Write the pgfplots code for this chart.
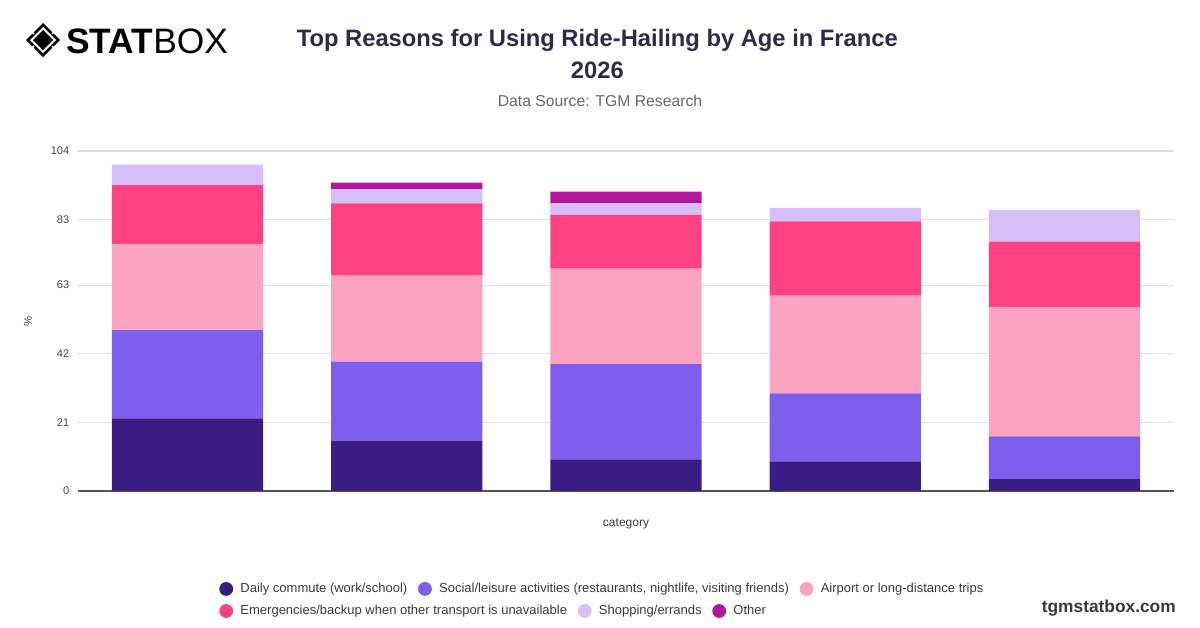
\documentclass[border=0pt]{standalone}
\usepackage{fontspec}
\setmainfont{Liberation Sans}
\usepackage{pgfplots}
\pgfplotsset{compat=1.18}
\definecolor{c1}{HTML}{3A1C85}
\definecolor{c2}{HTML}{7E5EEC}
\definecolor{c3}{HTML}{FDA3C2}
\definecolor{c4}{HTML}{FF4081}
\definecolor{c5}{HTML}{D5BEFA}
\definecolor{c6}{HTML}{B1179B}
\definecolor{titlec}{HTML}{2E2A48}
\definecolor{subc}{HTML}{666666}
\definecolor{gridc}{HTML}{E0E0E0}
\definecolor{basec}{HTML}{555555}
\definecolor{tickc}{HTML}{444444}
\definecolor{legc}{HTML}{3A3A3A}
\pgfplotsset{
  circ/.style={legend image code/.code={\fill[##1] (5pt,0pt) circle (5.2pt);}},
  mylegend/.style={
    circ,
    legend columns=-1,
    legend style={draw=none, fill=none, anchor=west,
      font=\fontsize{9.75}{11}\selectfont,
      nodes={inner sep=0pt, text=legc},
      /tikz/every odd column/.append style={column sep=5.5pt},
      /tikz/every even column/.append style={column sep=8pt}},
  },
  mybox/.style={at={(58.5pt,-368.25pt)}, anchor=south west,
    scale only axis, width=822pt, height=255pt},
}
\begin{document}
\begin{tikzpicture}
\path[use as bounding box] (0pt,0pt) rectangle (900pt,-471pt);
% logo
\fill[black] (32.25pt,-17.25pt) -- (45pt,-30pt) -- (32.25pt,-42.75pt) -- (19.5pt,-30pt) -- cycle;
\fill[white] (32.25pt,-20.25pt) -- (42pt,-30pt) -- (32.25pt,-39.75pt) -- (22.5pt,-30pt) -- cycle;
\fill[black] (32.25pt,-22.5pt) -- (39.75pt,-30pt) -- (32.25pt,-37.5pt) -- (24.75pt,-30pt) -- cycle;
\draw[white, line width=1.2pt] (22pt,-22pt) -- (25.5pt,-25.5pt) (42.5pt,-22pt) -- (39pt,-25.5pt)
  (22pt,-38pt) -- (25.5pt,-34.5pt) (42.5pt,-38pt) -- (39pt,-34.5pt);
\node[anchor=base west, inner sep=0pt] at (49.5pt,-39.75pt)
  {\fontsize{26.5}{29}\selectfont\bfseries STAT\mdseries BOX};
% titles
\node[anchor=center, inner sep=0pt, text=titlec] at (448pt,-30pt)
  {\fontsize{17.8}{21}\selectfont\bfseries Top Reasons for Using Ride-Hailing by Age in France};
\node[anchor=center, inner sep=0pt, text=titlec] at (448pt,-52.5pt)
  {\fontsize{17.8}{21}\selectfont\bfseries 2026};
\node[anchor=center, inner sep=0pt, text=subc] at (450pt,-76pt)
  {\fontsize{11.8}{14}\selectfont Data Source: TGM Research};
\node[anchor=base east, inner sep=0pt, text=legc] at (882pt,-459pt)
  {\fontsize{13}{15}\selectfont\bfseries tgmstatbox.com};
\begin{axis}[mybox, mylegend,
  ybar stacked, bar width=0.69,
  xmin=-0.5, xmax=4.5, ymin=0, ymax=104,
  xtick=\empty,
  ytick={0,21,42,63,83,104},
  ymajorgrids, grid style={draw=gridc, line width=0.8pt},
  axis x line*=bottom, axis y line*=left,
  x axis line style={draw=basec, line width=1pt},
  y axis line style={draw=none},
  major tick length=0pt,
  /pgf/number format/assume math mode=true,
  yticklabel style={font=\fontsize{8.3}{10}\selectfont, text=tickc, xshift=-3pt},
  xlabel={category}, ylabel={\%},
  xlabel style={at={(axis description cs:0.5,-0.097)}, anchor=center,
    font=\fontsize{9}{11}\selectfont, text=legc},
  ylabel style={at={(axis description cs:-0.0456,0.5)}, anchor=center,
    font=\fontsize{8.5}{10}\selectfont, text=tickc},
  legend style={at={(axis description cs:0.125,-0.288)}},
]
\addplot[fill=c1, draw=none, circ] coordinates {(0,22.2) (1,15.4) (2,9.7) (3,9.1) (4,3.6)};
\addplot[fill=c2, draw=none, circ] coordinates {(0,27.0) (1,24.2) (2,29.1) (3,20.8) (4,13.1)};
\addplot[fill=c3, draw=none, circ] coordinates {(0,26.4) (1,26.3) (2,29.2) (3,29.9) (4,39.6)};
\addplot[fill=c4, draw=none, circ] coordinates {(0,18.0) (1,22.1) (2,16.5) (3,22.7) (4,20.0)};
\addplot[fill=c5, draw=none, circ] coordinates {(0,6.2) (1,4.3) (2,3.5) (3,4.1) (4,9.7)};
\addplot[fill=c6, draw=none, circ] coordinates {(0,0) (1,2.0) (2,3.6) (3,0) (4,0)};
\legend{Daily commute (work/school), Social/leisure activities (restaurants{,} nightlife{,} visiting friends), Airport or long-distance trips}
\end{axis}
\begin{axis}[mybox, mylegend, hide axis, xmin=0, xmax=1, ymin=0, ymax=1,
  legend style={at={(axis description cs:0.125,-0.353)}}]
\addlegendimage{fill=c4, draw=none}
\addlegendentry{Emergencies/backup when other transport is unavailable}
\addlegendimage{fill=c5, draw=none}
\addlegendentry{Shopping/errands}
\addlegendimage{fill=c6, draw=none}
\addlegendentry{Other}
\end{axis}
\end{tikzpicture}
\end{document}
